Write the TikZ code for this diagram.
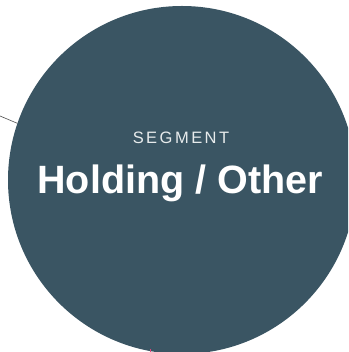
\documentclass[tikz,border=0pt]{standalone}
\usepackage{fontspec}
\setmainfont{Liberation Sans}
\newfontfamily\spacedfont[LetterSpace=15]{Liberation Sans}
\definecolor{segblue}{HTML}{3A5563}
\definecolor{leadgray}{HTML}{4A4A4A}
\definecolor{tickpink}{HTML}{E0457B}
\tikzset{x=1pt,y=1pt}
\begin{document}
\begin{tikzpicture}
    \useasboundingbox (0,0) rectangle (348,352);
    \clip (0,0) rectangle (348,352);
\node[circle, fill=segblue, minimum size=348pt, inner sep=0pt] (seg) at (182,172) {};
        \node[anchor=base, text=white!88!segblue, font=\spacedfont\fontsize{16.5}{18}\selectfont] (kind) at (181,208) {SEGMENT};
        \node[anchor=base, text=white, font=\bfseries\fontsize{39.5}{42}\selectfont] (name) at (180,158) {Holding / Other};
    \coordinate (lead) at (0,236);
    \draw[leadgray, line width=0.6pt] (lead) -- (seg.161);
    \coordinate (tick) at (150,0);
    \draw[tickpink, line width=1pt] (tick) -- ++(0,3);
    \end{tikzpicture}
\end{document}
